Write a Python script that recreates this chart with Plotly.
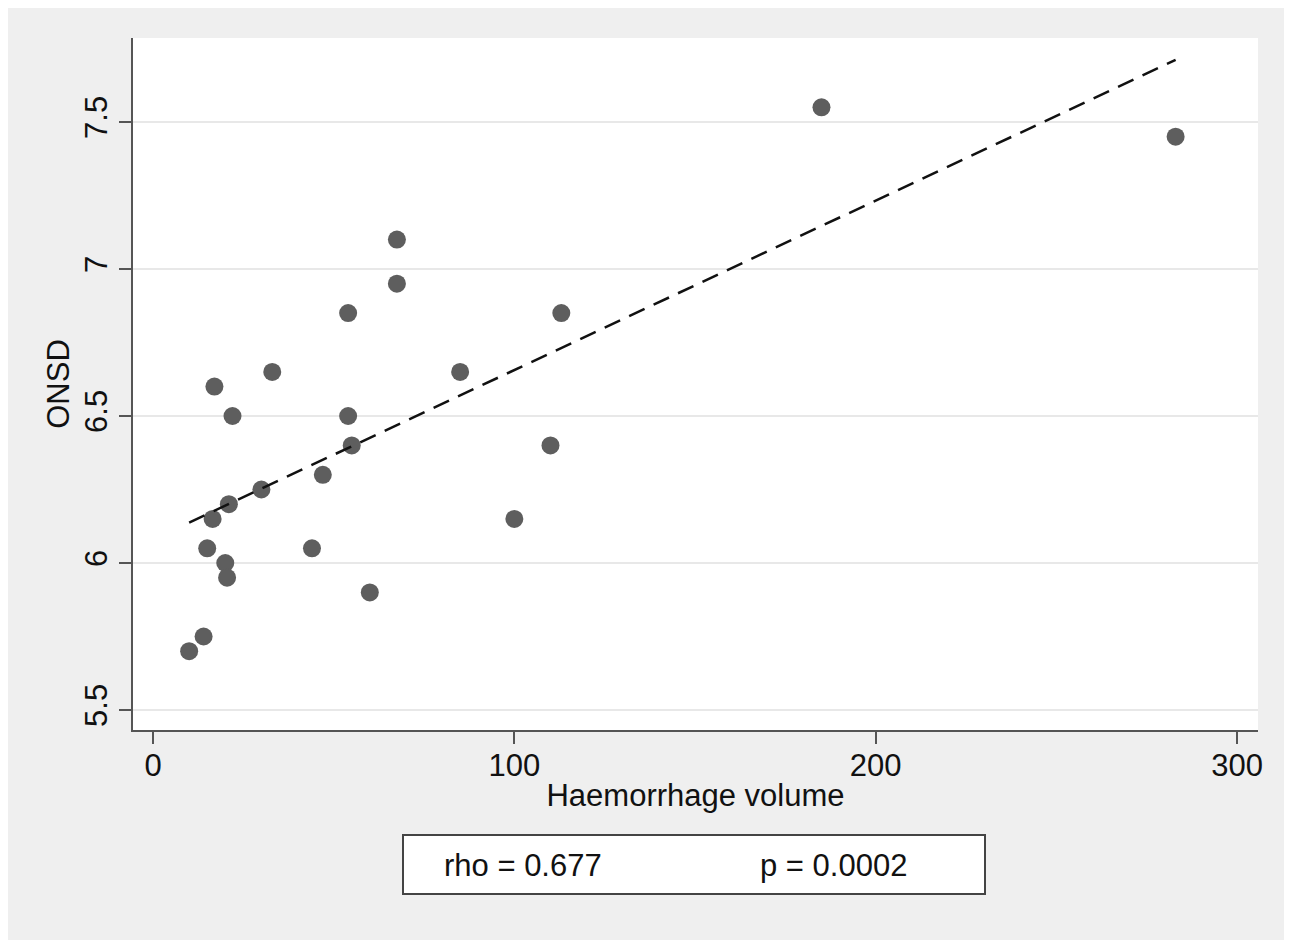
import numpy as np
import plotly.graph_objects as go

# Data
volume = [10, 14, 15, 16.5, 17, 20, 20.5, 21, 22, 30, 33, 44, 47, 54, 54, 55, 60,
          67.5, 67.5, 85, 100, 110, 113, 185, 283]
onsd = [5.7, 5.75, 6.05, 6.15, 6.6, 6.0, 5.95, 6.2, 6.5, 6.25, 6.65, 6.05, 6.3, 6.85,
        6.5, 6.4, 5.9, 7.1, 6.95, 6.65, 6.15, 6.4, 6.85, 7.55, 7.45]
x_ticks = [0, 100, 200, 300]
y_ticks = [5.5, 6, 6.5, 7, 7.5]
x_title = "Haemorrhage volume"
y_title = "ONSD"
rho_text = "rho = 0.677"
p_text = "p = 0.0002"

# Linear fit (like Stata lfit)
slope, intercept = np.polyfit(volume, onsd, 1)
fit_x = np.array([min(volume), max(volume)])
fit_y = intercept + slope * fit_x

FONT = "Liberation Sans, Arial, Helvetica, sans-serif"
OFF = 8  # page body margin
W, H = 1292 - OFF, 940 - OFF
L, R, T, B = 133 - OFF, 34, 38 - OFF, 210
PW, PH = W - L - R, H - T - B

def px(xp):
    # xp: pixel in screenshot coordinates
    return (xp - OFF - L) / PW

def py(yp):
    return (H - B - (yp - OFF)) / PH

fig = go.Figure()
fig.add_trace(go.Scatter(
    x=volume, y=onsd, mode="markers",
    marker=dict(size=18, color="#5e5e5e", line=dict(width=0)),
    showlegend=False, hoverinfo="skip"))
fig.add_trace(go.Scatter(
    x=fit_x, y=fit_y, mode="lines",
    line=dict(color="#111111", width=2.5, dash="17px,10px"),
    showlegend=False, hoverinfo="skip"))

fig.update_layout(
    width=W, height=H, autosize=False,
    margin=dict(l=L, r=R, t=T, b=B, pad=0),
    paper_bgcolor="#efefef", plot_bgcolor="#ffffff",
    font=dict(family=FONT, size=31, color="#111111"),
    showlegend=False,
    xaxis=dict(
        range=[-5.535, 305.8], tickvals=x_ticks, ticktext=[str(v) for v in x_ticks],
        showgrid=False, zeroline=False, showline=True, linecolor="#555555", linewidth=2,
        ticks="outside", ticklen=12, tickwidth=2, tickcolor="#555555",
        ticklabelstandoff=-5,
        tickfont=dict(size=31, family=FONT, color="#111111"),
        title=dict(text=x_title, font=dict(size=31, family=FONT, color="#111111"), standoff=2),
    ),
    yaxis=dict(
        range=[5.432, 7.7857], tickvals=y_ticks, ticktext=[("%g" % v) for v in y_ticks],
        showgrid=True, gridcolor="#e8e8e8", gridwidth=2,
        zeroline=False, showline=True, linecolor="#555555", linewidth=2,
        ticks="outside", ticklen=12, tickwidth=2, tickcolor="#555555",
        tickangle=-90,
        tickfont=dict(size=31, family=FONT, color="#111111"),
        title=dict(text=y_title, font=dict(size=31, family=FONT, color="#111111"), standoff=0),
    ),
    shapes=[
        # stats box
        dict(type="rect", xref="paper", yref="paper", x0=px(403), x1=px(985), y0=py(894), y1=py(835),
             fillcolor="#ffffff", line=dict(color="#444444", width=2), layer="above"),
    ],
    annotations=[
        dict(text=rho_text, xref="paper", yref="paper", x=px(442), y=py(865),
             xanchor="left", yanchor="middle", showarrow=False,
             font=dict(size=31, family=FONT, color="#111111")),
        dict(text=p_text, xref="paper", yref="paper", x=px(758), y=py(865),
             xanchor="left", yanchor="middle", showarrow=False,
             font=dict(size=31, family=FONT, color="#111111")),
    ],
)

fig.write_html("out.html")
